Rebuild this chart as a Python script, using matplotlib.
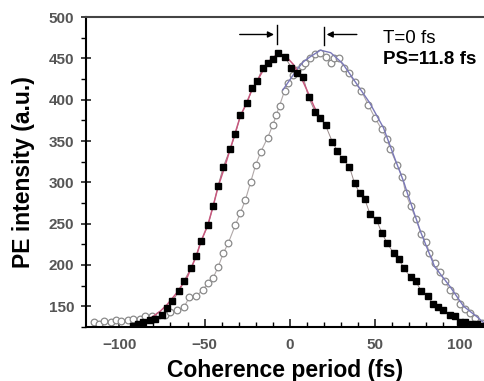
import numpy as np
import matplotlib
matplotlib.use('Agg')
import matplotlib.pyplot as plt
from matplotlib.ticker import MultipleLocator

plt.rcParams['font.family'] = ['Liberation Sans', 'DejaVu Sans']

# filled squares (measured data, T=0 fs)
sq_t = [-92, -89, -86, -82, -79, -75, -72, -69, -65, -62, -58, -55, -52, -48, -45,
        -42, -39, -35, -32, -29, -25, -22, -19, -16, -13, -10, -7, -3, 1, 4, 8,
        11, 15, 18, 21, 25, 28, 31, 35, 38, 41, 44, 47, 51, 54, 57, 61, 64, 67,
        71, 74, 77, 81, 84, 87, 90, 94, 97, 100, 103, 107, 110, 113]
sq_v = [126, 128, 131, 133, 135, 139, 148, 156, 168, 181, 196, 211, 229, 248, 271,
        296, 319, 340, 358, 381, 396, 414, 423, 438, 444, 449, 456, 452, 439, 432, 427,
        403, 385, 378, 369, 349, 338, 328, 319, 299, 287, 280, 262, 254, 239, 227, 214, 207, 196,
        185, 180, 169, 162, 153, 149, 146, 139, 138, 131, 131, 128, 129, 126]

# open circles
ci_t = [-115, -112, -109, -105, -102, -99, -95, -92, -88, -85, -81, -77, -73, -70,
        -66, -62, -59, -55, -51, -48, -45, -42, -39, -36, -32, -29, -26, -23, -20,
        -17, -13, -10, -8, -6, -3, -1, 2, 4, 7, 9, 12, 15, 18, 21, 24, 26, 29, 32,
        35, 38, 42, 46, 50, 54, 57, 59, 63, 66, 68, 71, 74, 77, 80, 82, 85, 88, 91,
        94, 97, 100, 103, 106, 109, 113]
ci_v = [131, 128, 132, 131, 133, 132, 133, 134, 135, 138, 138, 140, 140, 143,
        146, 149, 161, 162, 170, 178, 184, 198, 214, 227, 248, 263, 279, 300, 321,
        337, 354, 369, 381, 393, 411, 420, 430, 436, 441, 445, 451, 455, 457, 452, 445, 451, 450, 438,
        432, 421, 411, 394, 378, 364, 353, 340, 321, 307, 287, 271, 256, 238, 228, 214, 202, 191, 180,
        170, 163, 153, 147, 142, 136, 130]

# fitted curves
fit1_t = [-95, -92, -86, -80, -76, -72, -66, -60, -55, -52, -48, -45, -42, -38, -35,
          -32, -29, -25, -22, -18, -15, -12, -8, -5, -2, 2, 6, 10, 14, 18]
fit1_v = [124, 126, 131, 138, 144, 152, 167, 186, 210, 229, 249, 271, 295, 320, 340,
          360, 380, 398, 413, 427, 438, 447, 454, 455, 452, 443, 430, 412, 393, 376]
fit2_t = [-4, 0, 4, 8, 12, 18, 24, 31, 39, 47, 55, 62, 67, 69, 77, 85, 94, 102, 110, 115]
fit2_v = [412, 424, 436, 446, 452, 460, 457, 444, 420, 396, 366, 327, 300, 287, 239, 198, 174, 150, 137, 128]

fig = plt.figure(figsize=(4.84, 3.81), dpi=100)
ax = fig.add_axes([0.178, 0.142, 0.822, 0.813])

ax.plot(ci_t, ci_v, '-', color='#b0a8a8', lw=0.8)
ax.plot(ci_t, ci_v, 'o', mfc='white', mec='#8a8a8a', ms=4.8, mew=0.9)
ax.plot(fit2_t, fit2_v, '-', color='#7a78b8', lw=1.0)
ax.plot(sq_t, sq_v, '-', color='#9a8a8a', lw=0.7)
ax.plot(fit1_t, fit1_v, '-', color='#c8587e', lw=1.1)
ax.plot(sq_t, sq_v, 's', color='black', ms=3.8)

# peak markers
ax.plot([-7.6, -7.6], [468, 490], color='black', lw=1.0)
ax.plot([20, 20], [466, 488], color='black', lw=1.0)
ax.annotate('', xy=(-7.6, 479), xytext=(-31, 479),
            arrowprops=dict(arrowstyle='-|>', color='black', lw=1.0, mutation_scale=9))
ax.annotate('', xy=(20, 479), xytext=(41, 479),
            arrowprops=dict(arrowstyle='-|>', color='black', lw=1.0, mutation_scale=9))

ax.text(0.745, 0.96, 'T=0 fs', transform=ax.transAxes, fontsize=13.5, va='top', ha='left')
ax.text(0.745, 0.89, 'PS=11.8 fs', transform=ax.transAxes, fontsize=13.5,
        fontweight='bold', va='top', ha='left')

ax.set_xlim(-119.5, 114)
ax.set_ylim(125, 500)
ax.xaxis.set_major_locator(MultipleLocator(50))
ax.xaxis.set_minor_locator(MultipleLocator(10))
ax.yaxis.set_major_locator(MultipleLocator(50))
ax.yaxis.set_minor_locator(MultipleLocator(25))
ax.tick_params(axis='x', which='major', direction='in', length=6, width=1.2, pad=8)
ax.tick_params(axis='x', which='minor', direction='in', length=3.5, width=1.0)
ax.tick_params(axis='y', which='major', direction='inout', length=7, width=1.2, pad=5)
ax.tick_params(axis='y', which='minor', direction='out', length=3.5, width=1.0)
ax.tick_params(labelsize=11, colors='#222222', labelcolor='#555555')
for lab in ax.get_xticklabels() + ax.get_yticklabels():
    lab.set_fontweight('bold')

for s in ['left', 'bottom', 'top']:
    ax.spines[s].set_linewidth(1.5)
ax.spines['top'].set_color('#444444')
ax.spines['right'].set_visible(False)

ax.set_xlabel('Coherence period (fs)', fontsize=16.5, fontweight='bold', labelpad=5)
ax.set_ylabel('PE intensity (a.u.)', fontsize=16.5, fontweight='bold', labelpad=10)

fig.savefig('out.png', dpi=100)
